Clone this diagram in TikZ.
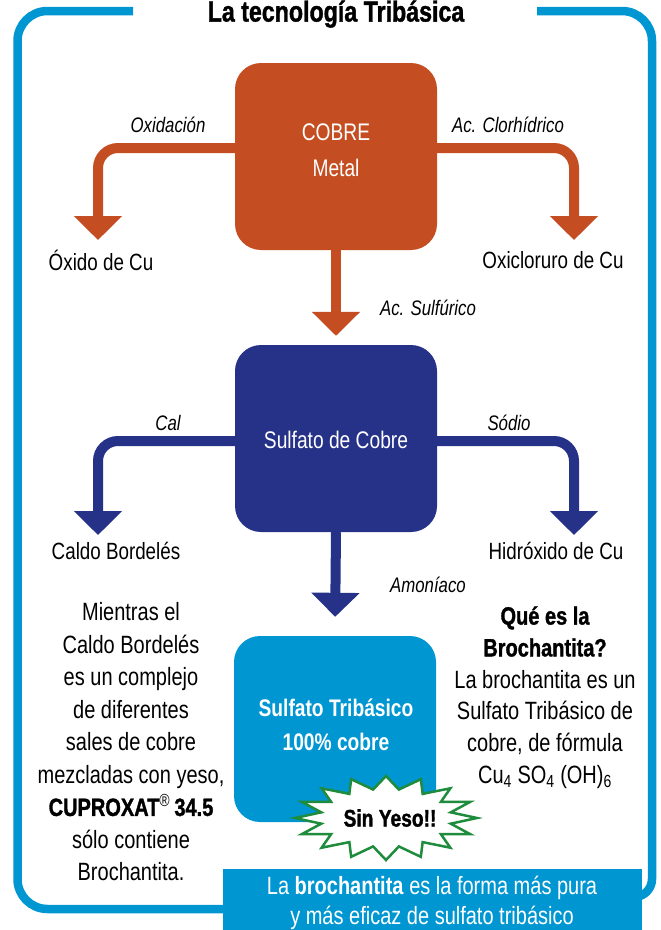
\documentclass[tikz,border=0pt]{standalone}
\usepackage{fontspec}
\setmainfont{Liberation Sans}[FakeStretch=0.8]
\newfontfamily\heavyfont{Liberation Sans}[FakeStretch=0.8,BoldFeatures={FakeBold=1.3}]
\usetikzlibrary{arrows.meta}
\definecolor{cyanC}{RGB}{0,150,210}
\definecolor{orangeC}{RGB}{196,78,34}
\definecolor{navyC}{RGB}{38,50,135}
\definecolor{greenC}{RGB}{30,140,60}
\begin{document}
\begin{tikzpicture}[x=1pt,y=-1pt,
  frame/.style={draw=cyanC,line width=8.5pt},
  box/.style={rounded corners=26pt,minimum width=202pt,minimum height=187pt,inner sep=0pt},
  boxtext/.style={text=white,align=center,font=\fontsize{24}{36}\selectfont},
  flowO/.style={draw=orangeC,line width=10pt,rounded corners=20pt,-{Triangle[width=47pt,length=24pt]}},
  flowB/.style={draw=navyC,line width=10pt,rounded corners=20pt,-{Triangle[width=47pt,length=24pt]}},
  lbl/.style={font=\fontsize{21}{24}\selectfont\itshape},
  prod/.style={font=\fontsize{23.5}{26}\selectfont},
  body/.style={align=center,font=\fontsize{25}{32.5}\selectfont},
  burst/.style={draw=greenC,fill=white,line width=2.5pt,line join=miter}
]
\useasboundingbox (0,0) rectangle (661,930);
% frame
\draw[frame,rounded corners=30pt] (133,11) -- (17.5,11) -- (17.5,909) -- (235,909);
\draw[frame] (537,11) -- (622,11) arc[start angle=90,end angle=0,radius=30pt]
  -- (652,879) arc[start angle=0,end angle=-90,radius=18pt] -- (628,897);
\node[font=\heavyfont\bfseries\fontsize{29}{30}\selectfont] (title) at (336,14) {La tecnología Tribásica};
% boxes
\node[box,fill=orangeC] (cobre) at (336,156.5) {};
\node[boxtext] (cobretxt) at (336,150) {COBRE\\Metal};
\node[box,fill=navyC] (sulfato) at (336,438.5) {};
\node[boxtext] (sulfatotxt) at (336,440) {Sulfato de Cobre};
\node[box,fill=cyanC,minimum height=186pt] (trib) at (335,729) {};
% orange arrows
\coordinate (oxE) at (98,240);
\coordinate (oclE) at (574,240);
\draw[flowO] (cobre.west |- 0,148) -| (oxE);
\draw[flowO] (cobre.east |- 0,148) -| (oclE);
\draw[flowO,shorten >=9pt] (cobre.south) -- (sulfato.north);
\node[lbl] (oxid) at (168,125) {Oxidación};
\node[lbl] (clor) at (508,125) {Ac. Clorhídrico};
\node[lbl] (sulf) at (428,308) {Ac. Sulfúrico};
\node[prod] (oxido) at (101,260) {Óxido de Cu};
\node[prod] (oxicl) at (553,260) {Oxicloruro de Cu};
% blue arrows
\coordinate (calE) at (98,535);
\coordinate (sodE) at (574,535);
\draw[flowB] (sulfato.west |- 0,441) -| (calE);
\draw[flowB] (sulfato.east |- 0,441) -| (sodE);
\draw[flowB,shorten >=19pt] (sulfato.south) -- (trib.north);
\node[lbl] (cal) at (168,423) {Cal};
\node[lbl] (sod) at (509,423) {Sódio};
\node[lbl] (amon) at (428,585) {Amoníaco};
\node[prod] (caldo) at (116,551) {Caldo Bordelés};
\node[prod] (hidr) at (556,551) {Hidróxido de Cu};
% tribasico text
\node[text=white,align=center,font=\bfseries\fontsize{24}{34}\selectfont] (tribtxt) at (336,725) {Sulfato Tribásico\\100\% cobre};
% starburst
\coordinate (yc) at (386,818);
\begin{scope}[shift={(yc)}]
\draw[burst] (0:91pt and 42pt) \foreach \i in {0,...,15}{ -- ({\i*22.5+11.25}:66pt and 29pt) -- ({(\i+1)*22.5}:91pt and 42pt)} -- cycle;
\end{scope}
\node[font=\heavyfont\bfseries\fontsize{24}{26}\selectfont] (yeso) at (390,818) {Sin Yeso!!};
% side texts
\node[body] (left) at (131,742) {Mientras el\\Caldo Bordelés\\es un complejo\\de diferentes\\sales de cobre\\mezcladas con yeso,\\{\heavyfont\bfseries CUPROXAT{\mdseries\textsuperscript{®}}\,34.5}\\sólo contiene\\Brochantita.};
\node[body,font=\fontsize{25}{31.8}\selectfont] (right) at (545,697.5) {{\heavyfont\bfseries Qué es la}\\{\heavyfont\bfseries Brochantita?}\\La brochantita es un\\Sulfato Tribásico de\\cobre, de fórmula\\Cu\textsubscript{4} SO\textsubscript{4} (OH)\textsubscript{6}};
% banner
\node[fill=cyanC,minimum width=419pt,minimum height=66pt,inner sep=0pt,anchor=north west] (banner) at (223,869) {};
\node[text=white,align=center,font=\fontsize{25}{30}\selectfont] (bantxt) at (432,903) {La \textbf{brochantita} es la forma más pura\\y más eficaz de sulfato tribásico};
\end{tikzpicture}
\end{document}
